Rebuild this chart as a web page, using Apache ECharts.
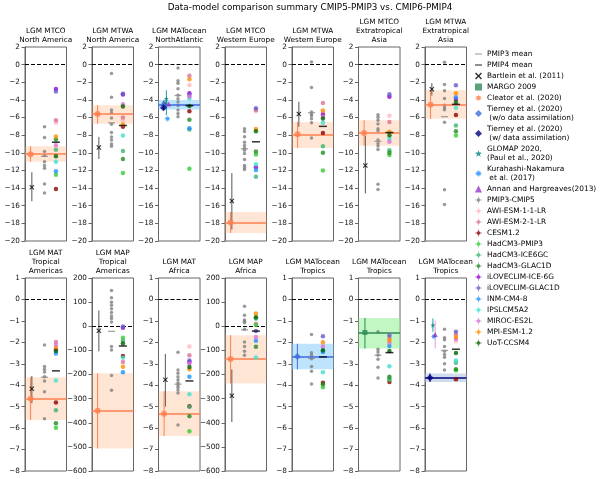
<!DOCTYPE html>
<html>
<head>
<meta charset="utf-8">
<script src="https://cdn.jsdelivr.net/npm/echarts@6/dist/echarts.min.js"></script>
<style>
  html, body { margin: 0; padding: 0; background: #fff; }
  #chart { width: 600px; height: 479px; }
</style>
</head>
<body>
<div id="chart"></div>
<script>
// ---- data (one entry per panel, 14 panels, null = not shown) ----
const panelTitles = [
  'LGM MTCO\nNorth America', 'LGM MTWA\nNorth America', 'LGM MATocean\nNorthAtlantic',
  'LGM MTCO\nWestern Europe', 'LGM MTWA\nWestern Europe', 'LGM MTCO\nExtratropical\nAsia',
  'LGM MTWA\nExtratropical\nAsia',
  'LGM MAT\nTropical\nAmericas', 'LGM MAP\nTropical\nAmericas', 'LGM MAT\nAfrica', 'LGM MAP\nAfrica',
  'LGM MATocean\nTropics', 'LGM MATocean\nTropics', 'LGM MATocean\nTropics'
]
// [min, max, interval]
const yRanges = [
  [-20, 2, 2], [-20, 2, 2], [-20, 2, 2], [-20, 2, 2], [-20, 2, 2], [-20, 2, 2], [-20, 2, 2],
  [-8, 1, 1], [-600, 200, 100], [-8, 1, 1], [-600, 200, 100], [-8, 1, 1], [-8, 1, 1], [-8, 1, 1]
]

const pmip3Values = [
  [-7.05, -8.25, -9.85, -10.3, -11.0, -11.45, -11.75, -13.55, -14.55],
  [-1.0, -3.7, -5.15, -5.45, -6.05, -6.75, -7.7, -8.2, -8.55, -9.0, -9.25],
  [-0.38, -1.82, -2.1, -2.73, -3.48, -3.86, -4.24, -4.62, -5.15, -5.53, -5.9],
  [-7.27, -7.58, -8.18, -8.79, -9.17, -9.47, -9.7, -10.08, -10.76, -11.44, -11.67, -11.9],
  [0.3, -2.58, -5.38, -5.6, -5.8, -6.14, -6.6, -8.33],
  [-5.68, -5.98, -6.3, -6.74, -7.27, -7.5, -8.56, -8.94, -9.24, -9.62, -13.56, -14.17],
  [0.27, -2.24, -2.97, -3.84, -4.6, -4.9, -5.13, -6.54, -14.2, -15.86],
  [-2.12, -3.13, -3.26, -3.38, -3.6, -3.8, -4.31, -5.56],
  [148, 118, 100, 87, 73, 57, 43, 32, 18, -84, -98, -204, -265],
  [-2.46, -3.29, -3.44, -3.6, -3.75, -3.88, -3.99, -4.1, -4.22, -4.36, -5.86],
  [83, 46, 26, 21, 15, -12, -65, -84, -104, -120],
  [-1.64, -2.48, -2.6, -2.76, -3.13, -3.35, -3.94],
  [-1.51, -2.32, -2.45, -2.6, -2.79, -3.16, -3.66],
  [-1.39, -1.79, -1.88, -2.2, -2.41, -2.57, -2.7, -3.0, -3.29]
]
const pmip3Mean = [-10.4, -6.6, -3.5, -9.55, -5.45, -8.7, -5.9, -3.63, -21, -3.95, -15, -2.75, -2.6, -2.38]
const pmip4Mean = [-8.8, -6.9, -4.65, -8.75, -7.0, -7.7, -4.5, -3.33, -82, -3.8, -20, -2.68, -2.48, -2.32]

const awiEsm1 = [-6.6, -6.35, -2.3, -5.3, -5.4, -5.8, null, null, null, -2.2, null, null, null, -1.95]
const awiEsm2 = [-6.3, -6.0, -1.25, -5.15, -4.35, -6.5, null, -1.98, -148, -2.6, 10, null, -1.8, -1.65]
const cesm = [-14.1, -7.05, -5.3, null, -7.75, null, -5.7, -4.8, -123, -4.98, null, -3.88, -3.85, -3.72]
const hadPmip3 = [-12.5, -12.3, -11.8, -10.2, -12.0, -10.25, -8.05, -5.98, -48, -6.15, 5, -4.1, -3.75, -3.3]
const hadIce6gc = [-9.65, -9.8, -7.35, -12.7, -9.25, -9.7, -6.9, -5.17, -60, -5.0, 32, -2.4, -3.7, -2.95]
const hadGlac1d = [-8.5, -10.7, -6.25, -9.85, -10.0, -10.0, -7.55, -5.77, null, -5.45, -85, -3.95, -3.6, -3.25]
const iloveIce6g = [-2.75, -3.4, -3.25, -11.65, -5.65, -3.65, -3.9, -2.33, -6, -2.92, null, null, null, null]
const iloveGlac1d = [-3.05, -3.3, -3.45, -4.95, null, -3.35, -2.35, null, -1, -2.85, -20, -1.72, -1.67, -1.51]
const inm = [-12.1, null, -7.2, -11.95, null, null, -3.7, -2.52, -191, -3.6, -60, -2.45, -2.17, null]
const ipsl = [-11.0, -8.05, -3.85, -11.3, -6.6, -8.4, -4.9, -3.78, -131, -4.42, -130, -3.4, -3.12, -2.85]
const miroc = [-9.15, -4.5, -3.6, null, -5.9, -8.75, null, -2.12, null, -3.0, -45, -2.2, -2.02, -1.85]
const mpi = [-8.15, -6.8, -1.65, -7.3, -5.2, -7.6, -3.25, -2.27, -168, -3.25, 53, -2.0, -1.9, -1.75]
const uot = [-10.4, -4.75, -4.7, -7.55, -6.1, -8.0, -4.25, -2.4, -72, -3.15, 37, -2.37, -2.4, -2.5]

// reconstructions: [value, upper, lower]
const bartlein = [[-13.9, -12.2, -15.5], [-9.4, -8.2, -10.7], null, [-15.45, -12.3, -18.7], [-5.6, -4.2, -7.05],
  [-11.45, -8.1, -14.6], [-2.8, -2.1, -3.5], [-4.17, -3.57, -4.84], [-19, 65, -104], [-3.74, -2.54, -5.0],
  [-288, -179, -397], null, null, null]
const cleator = [[-10.15, -9.25, -11.0], [-5.6, -4.6, -6.7], null, [-17.9, -16.7, -19.1], [-7.9, -6.5, -9.45],
  [-7.75, -6.3, -9.2], [-4.55, -2.9, -6.15], [-4.63, -3.63, -5.62], [-350, -195, -507], [-5.33, -4.28, -6.37],
  [-136, -37, -237], null, null, null]
const margo = [null, null, [-4.47, -4.2, -4.75], null, null, null, null, null, null, null, null, null,
  [-1.54, -0.86, -2.29], null]
const tierneyNoDA = [null, null, [-4.55, -4.0, -5.1], null, null, null, null, null, null, null, null,
  [-2.66, -2.07, -3.26], null, null]
const tierneyDA = [null, null, [-4.9, -4.65, -5.15], null, null, null, null, null, null, null, null, null, null,
  [-3.65, -3.45, -3.85]]
const glomap = [null, null, [-3.86, -2.9, -5.75], null, null, null, null, null, null, null, null, null, null,
  [-1.2, -0.89, -1.51]]
const kurahashi = [null, null, [-6.13, null, null], null, null, null, null, null, null, null, null, null, null,
  [-1.73, null, null]]
const annan = [null, null, [-4.45, null, null], null, null, null, null, null, null, null, null, null, null,
  [-1.64, -0.98, -2.29]]

// ---- layout ----
const panelLeft = [25, 92, 158.5, 225, 292, 358.5, 425]
const panelWidth = 41.5
const rowTop = [47, 278]
const rowHeight = [194, 193]
const X_PMIP3 = 4.7
const X_PMIP4 = 7.45
const FONT = 'DejaVu Sans'

const X_PATH = 'path://M0,1.5L1.5,0L5,3.5L8.5,0L10,1.5L6.5,5L10,8.5L8.5,10L5,6.5L1.5,10L0,8.5L3.5,5Z'
const PLUS_DOT = 'path://M4.55,0h0.9v10h-0.9z M0,4.55h10v0.9h-10z M4,2.4h2l1.6,1.6v2l-1.6,1.6h-2l-1.6,-1.6v-2z'
const SQ_CROSS = 'path://M2,2h6v6h-6z M4.6,0h0.8v10h-0.8z M0,4.6h10v0.8h-10z'
const STAR = 'path://M5,0L6.2,3.5L10,3.6L7,5.9L8.1,9.6L5,7.4L1.9,9.6L3,5.9L0,3.6L3.8,3.5Z'
const LINE_ICON = 'path://M0,0h10v1.6h-10z'

const models = [
  { name: 'AWI-ESM-1-1-LR', values: awiEsm1, color: '#ffb6c1' },
  { name: 'AWI-ESM-2-1-LR', values: awiEsm2, color: '#db7093' },
  { name: 'CESM1.2', values: cesm, color: '#8b0000' },
  { name: 'HadCM3-PMIP3', values: hadPmip3, color: '#32cd32' },
  { name: 'HadCM3-ICE6GC', values: hadIce6gc, color: '#3cb371' },
  { name: 'HadCM3-GLAC1D', values: hadGlac1d, color: '#228b22' },
  { name: 'iLOVECLIM-ICE-6G', values: iloveIce6g, color: '#9400d3' },
  { name: 'iLOVECLIM-GLAC1D', values: iloveGlac1d, color: '#6a5acd' },
  { name: 'INM-CM4-8', values: inm, color: '#1e90ff' },
  { name: 'IPSLCM5A2', values: ipsl, color: '#40e0d0' },
  { name: 'MIROC-ES2L', values: miroc, color: '#da70d6' },
  { name: 'MPI-ESM-1.2', values: mpi, color: '#ff8c00' },
  { name: 'UoT-CCSM4', values: uot, color: '#006400' }
]

const sources = [
  { name: 'Bartlein et al. (2011)', data: bartlein, x: 1.65, color: '#000', symbol: X_PATH, size: 5, bar: '#555' },
  { name: 'MARGO 2009', data: margo, x: 1.55, color: '#2e8b57', symbol: 'rect', size: 5, bar: '#2e8b57',
    bands: [12], band: 'rgba(144,238,144,0.55)' },
  { name: 'Cleator et al. (2020)', data: cleator, x: 1.35, color: '#ff7f50', symbol: 'circle', size: 6, bar: '#ff7f50',
    bands: [0, 1, 3, 4, 5, 6, 7, 8, 9, 10], band: 'rgba(255,165,100,0.28)' },
  { name: 'Tierney et al. (2020)\n (w/o data assimilation)', data: tierneyNoDA, x: 1.3, color: '#4169e1',
    symbol: 'diamond', size: 7, bar: '#4169e1', bands: [2, 11], band: 'rgba(135,206,250,0.55)' },
  { name: 'Tierney et al. (2020)\n (w/ data assimilation)', data: tierneyDA, x: 1.2, color: '#000080',
    symbol: 'diamond', size: 7, bar: '#000080', bands: [13], band: 'rgba(176,196,222,0.6)' },
  { name: 'GLOMAP 2020,\n(Paul et al., 2020)', data: glomap, x: 1.9, color: '#008080', symbol: STAR, size: 5, bar: '#20a0a0' },
  { name: 'Kurahashi-Nakamura\n et al. (2017)', data: kurahashi, x: 2.15, color: '#1e90ff', symbol: SQ_CROSS, size: 6, bar: '#1e90ff' },
  { name: 'Annan and Hargreaves(2013)', data: annan, x: 2.45, color: '#9932cc', symbol: 'triangle', size: 5, bar: '#dda0dd' }
]

const legendNames = ['PMIP3 mean', 'PMIP4 mean'].concat(sources.map(s => s.name), ['PMIP3-CMIP5'], models.map(m => m.name))
const legendIcons = {
  'PMIP3 mean': LINE_ICON, 'PMIP4 mean': LINE_ICON,
  'Bartlein et al. (2011)': X_PATH, 'MARGO 2009': 'rect', 'Cleator et al. (2020)': SQ_CROSS,
  'Tierney et al. (2020)\n (w/o data assimilation)': 'diamond', 'Tierney et al. (2020)\n (w/ data assimilation)': 'diamond',
  'GLOMAP 2020,\n(Paul et al., 2020)': STAR, 'Kurahashi-Nakamura\n et al. (2017)': SQ_CROSS,
  'Annan and Hargreaves(2013)': 'triangle'
}

const chart = echarts.init(document.getElementById('chart'))
const grids = [], xAxes = [], yAxes = [], series = [], graphics = []

graphics.push({
  type: 'text', x: 310, y: 8,
  style: { text: 'Data-model comparison summary CMIP5-PMIP3 vs. CMIP6-PMIP4', fontSize: 8.8, fontFamily: FONT,
    fill: '#000', align: 'center', verticalAlign: 'middle' }
})

function errBar(p, x, hi, lo, color) {
  return {
    type: 'line', xAxisIndex: p, yAxisIndex: p, data: [[x, hi], [x, lo]], symbol: 'none', silent: true,
    lineStyle: { color: color, width: 1 }, z: 3, animation: false
  }
}

for (let p = 0; p < 14; p++) {
  const row = p < 7 ? 0 : 1
  const left = panelLeft[p % 7]
  grids.push({ left: left, top: rowTop[row], width: panelWidth, height: rowHeight[row], show: true,
    borderColor: '#666', borderWidth: 1, backgroundColor: 'transparent', containLabel: false, outerBoundsMode: 'none' })
  xAxes.push({ type: 'value', gridIndex: p, min: 0, max: 10, show: false })
  yAxes.push({
    type: 'value', gridIndex: p, min: yRanges[p][0], max: yRanges[p][1], interval: yRanges[p][2],
    axisLine: { show: true, lineStyle: { color: '#666', width: 1 } },
    axisTick: { show: true, length: 3.5, lineStyle: { color: '#666' } },
    splitLine: { show: false },
    axisLabel: { fontSize: 7.3, fontFamily: FONT, color: '#111', margin: 5,
      formatter: v => String(v).replace('-', '\u2212') }
  })
  graphics.push({
    type: 'text', x: left + panelWidth / 2, y: rowTop[row] - 2,
    style: { text: panelTitles[p], fontSize: 7.3, fontFamily: FONT, lineHeight: 9, fill: '#000',
      align: 'center', verticalAlign: 'bottom' }
  })

  series.push({
    name: 'PMIP3-CMIP5', type: 'scatter', xAxisIndex: p, yAxisIndex: p,
    data: pmip3Values[p].map(v => [X_PMIP3, v]), symbol: 'circle', symbolSize: 3.5,
    itemStyle: { color: '#808080' }, z: 4,
    markLine: { silent: true, symbol: ['none', 'none'], label: { show: false }, animation: false,
      lineStyle: { color: '#000', type: [4, 2], width: 1.2 }, data: [{ yAxis: 0 }] }
  })
  series.push({ name: 'PMIP3 mean', type: 'scatter', xAxisIndex: p, yAxisIndex: p,
    data: [[X_PMIP3, pmip3Mean[p]]], symbol: 'rect', symbolSize: [7, 1.3], itemStyle: { color: '#8c8c8c' }, z: 5 })
  series.push({ name: 'PMIP4 mean', type: 'scatter', xAxisIndex: p, yAxisIndex: p,
    data: [[X_PMIP4, pmip4Mean[p]]], symbol: 'rect', symbolSize: [8, 1.5], itemStyle: { color: '#000' }, z: 7 })

  models.forEach(m => {
    const v = m.values[p]
    if (v == null) return
    series.push({ name: m.name, type: 'scatter', xAxisIndex: p, yAxisIndex: p, data: [[X_PMIP4, v]],
      symbol: 'circle', symbolSize: 4.5, itemStyle: { color: m.color }, z: 6 })
  })

  sources.forEach(s => {
    const d = s.data[p]
    if (!d) return
    const hasBand = s.bands && s.bands.indexOf(p) >= 0
    if (d[1] != null) series.push(errBar(p, s.x, d[1], d[2], s.bar))
    const ser = { name: s.name, type: 'scatter', xAxisIndex: p, yAxisIndex: p, data: [[s.x, d[0]]],
      symbol: s.symbol, symbolSize: s.size, itemStyle: { color: s.color }, z: 8 }
    if (hasBand) {
      ser.markArea = { silent: true, animation: false, itemStyle: { color: s.band }, data: [[{ yAxis: d[1] }, { yAxis: d[2] }]] }
      ser.markLine = { silent: true, symbol: ['none', 'none'], label: { show: false }, animation: false,
        lineStyle: { color: s.color, type: 'solid', width: 1.5 }, data: [{ yAxis: d[0] }] }
    }
    series.push(ser)
  })
}

chart.setOption({
  animation: false,
  backgroundColor: '#fff',
  grid: grids,
  xAxis: xAxes,
  yAxis: yAxes,
  graphic: graphics,
  legend: {
    orient: 'vertical', left: 475, top: 49.5, padding: 0, itemGap: 2, itemWidth: 7, itemHeight: 7,
    selectedMode: false,
    textStyle: { fontSize: 7.4, lineHeight: 9, fontFamily: FONT, color: '#000' },
    data: legendNames.map(n => ({ name: n, icon: legendIcons[n] || PLUS_DOT }))
  },
  series: series
})
</script>
</body>
</html>
